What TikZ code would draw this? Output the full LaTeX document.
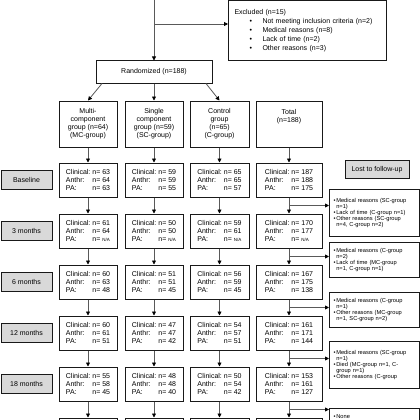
\documentclass[tikz,border=0pt]{standalone}
\usepackage{fontspec}
\setmainfont{Liberation Sans}
\usetikzlibrary{arrows.meta,calc}
\newcommand{\dat}[3]{\makebox[26.5pt][l]{Clinical:}n= #1\\\makebox[26.5pt][l]{Anthr:}n= #2\\\makebox[26.5pt][l]{PA:}n= #3}
\newcommand{\nna}{{\fontsize{4.5}{5}\selectfont N/A}}
\newcommand{\bul}{\makebox[2.8pt][l]{•}}
\newcommand{\ind}{\hspace*{2.8pt}}
\begin{document}
\begin{tikzpicture}[x=1pt,y=-1pt,
  line/.style={draw=black!65, line width=0.8pt},
  arr/.style={line, -{Triangle[length=4pt,width=4pt,color=black]}},
  box/.style={draw=black!90, line width=1pt, fill=white, inner sep=1pt, font=\fontsize{7}{8.3}\selectfont},
  dbox/.style={box, minimum height=34pt, align=left},
  gbox/.style={box, minimum height=46pt, align=center, font=\fontsize{7}{8}\selectfont},
  lbl/.style={box, fill=black!15, minimum width=51pt, minimum height=19pt},
  sbox/.style={box, anchor=north west, align=left, text width=82pt, inner xsep=4pt, font=\fontsize{5.7}{5.9}\selectfont}]
\useasboundingbox (0,0) rectangle (420,420);
\fill[white] (0,0) rectangle (420,420);
% top part
\coordinate (top) at (154,-2);
\coordinate (br0) at (154,24);
\node[box, anchor=north west, text width=146pt, inner xsep=6pt, minimum height=59.5pt, align=left, font=\fontsize{7}{9}\selectfont] (excl) at (228,0.5)
 {Excluded (n=15)\\
  \hspace*{15pt}\makebox[13pt][l]{•}Not meeting inclusion criteria (n=2)\\
  \hspace*{15pt}\makebox[13pt][l]{•}Medical reasons (n=8)\\
  \hspace*{15pt}\makebox[13pt][l]{•}Lack of time (n=2)\\
  \hspace*{15pt}\makebox[13pt][l]{•}Other reasons (n=3)};
\node[box, minimum width=116pt, minimum height=22pt] (rand) at (154,72) {Randomized (n=188)};
\draw[arr] (top) -- (rand);
\draw[arr] (br0) -- (br0 -| excl.west);
% groups
\node[gbox, minimum width=58pt] (mg) at (88,124) {Multi-\\component\\group (n=64)\\(MC-group)};
\node[gbox, minimum width=58pt] (sg) at (154,124) {Single\\component\\group (n=59)\\(SC-group)};
\node[gbox, minimum width=59pt] (cg) at (219.5,124) {Control\\group\\(n=65)\\(C-group)};
\node[gbox, minimum width=66pt] (tg) at (289,124) {Total\\(n=188)\\~\\~};
\draw[arr] ([xshift=-52pt]rand.south) -- (mg.north);
\draw[arr] (rand.south) -- (sg.north);
\draw[arr] ([xshift=52pt]rand.south) -- (cg.north);
% rows
\foreach \r/\lab/\a/\b/\c/\d/\e/\f/\g/\h/\i/\j/\k/\l in {
  0/Baseline/63/64/63/59/59/55/65/65/57/187/188/175,
  1/3 months/61/64/\nna/50/50/\nna/59/61/\nna/170/177/\nna,
  2/6 months/60/63/48/51/51/45/56/59/45/167/175/138,
  3/12 months/60/61/51/47/47/42/54/57/51/161/171/144,
  4/18 months/55/58/45/48/48/40/50/54/42/153/161/127}{
  \node[lbl] (l\r) at (26.5,180+51*\r) {\lab};
  \node[dbox, minimum width=58pt] (m\r) at (88,180+51*\r) {\dat{\a}{\b}{\c}};
  \node[dbox, minimum width=58pt] (s\r) at (154,180+51*\r) {\dat{\d}{\e}{\f}};
  \node[dbox, minimum width=59pt] (c\r) at (219.5,180+51*\r) {\dat{\g}{\h}{\i}};
  \node[dbox, minimum width=66pt] (t\r) at (289,180+51*\r) {\dat{\j}{\k}{\l}};
}
\node[dbox, minimum width=58pt] (m5) at (88,435) {};
\node[dbox, minimum width=58pt] (s5) at (154,435) {};
\node[dbox, minimum width=59pt] (c5) at (219.5,435) {};
\node[dbox, minimum width=66pt] (t5) at (289,435) {};
\draw[arr] (mg) -- (m0);
\draw[arr] (sg) -- (s0);
\draw[arr] (cg) -- (c0);
\draw[arr] (tg) -- (t0);
\foreach \r [evaluate=\r as \n using int(\r+1)] in {0,...,4}{
  \draw[arr] (m\r) -- (m\n);
  \draw[arr] (s\r) -- (s\n);
  \draw[arr] (c\r) -- (c\n);
  \draw[arr] (t\r) -- (t\n);
}
% lost to follow-up
\node[lbl, minimum width=64pt, minimum height=18pt] (lost) at (377,169.5) {Lost to follow-up};
\node[sbox, minimum height=47pt] (x1) at (329,189) {\bul Medical reasons (SC-group\\\ind n=1)\\\bul Lack of time (C-group n=1)\\\bul Other reasons (SC-group\\\ind n=4, C-group n=2)};
\node[sbox, minimum height=35pt] (x2) at (329,242) {\bul Medical reasons (C-group\\\ind n=2)\\\bul Lack of time (MC-group\\\ind n=1, C-group n=1)};
\node[sbox, minimum height=35pt] (x3) at (329,292) {\bul Medical reasons (C-group\\\ind n=1)\\\bul Other reasons (MC-group\\\ind n=1, SC-group n=2)};
\node[sbox, minimum height=47pt] (x4) at (329,341) {\bul Medical reasons (SC-group\\\ind n=1)\\\bul Died (MC-group n=1, C-\\\ind group n=1)\\\bul Other reasons (C-group};
\node[sbox, anchor=north west, minimum height=30pt, text depth=14pt] (x5) at (329,408) {\bul None};
\foreach \r [evaluate=\r as \n using int(\r+1)] in {0,...,4}{
  \coordinate (k\r) at ($(t\r.south)!0.5!(t\n.north)$);
  \draw[arr] (k\r) -- (k\r -| x\n.west);
}
\end{tikzpicture}
\end{document}
